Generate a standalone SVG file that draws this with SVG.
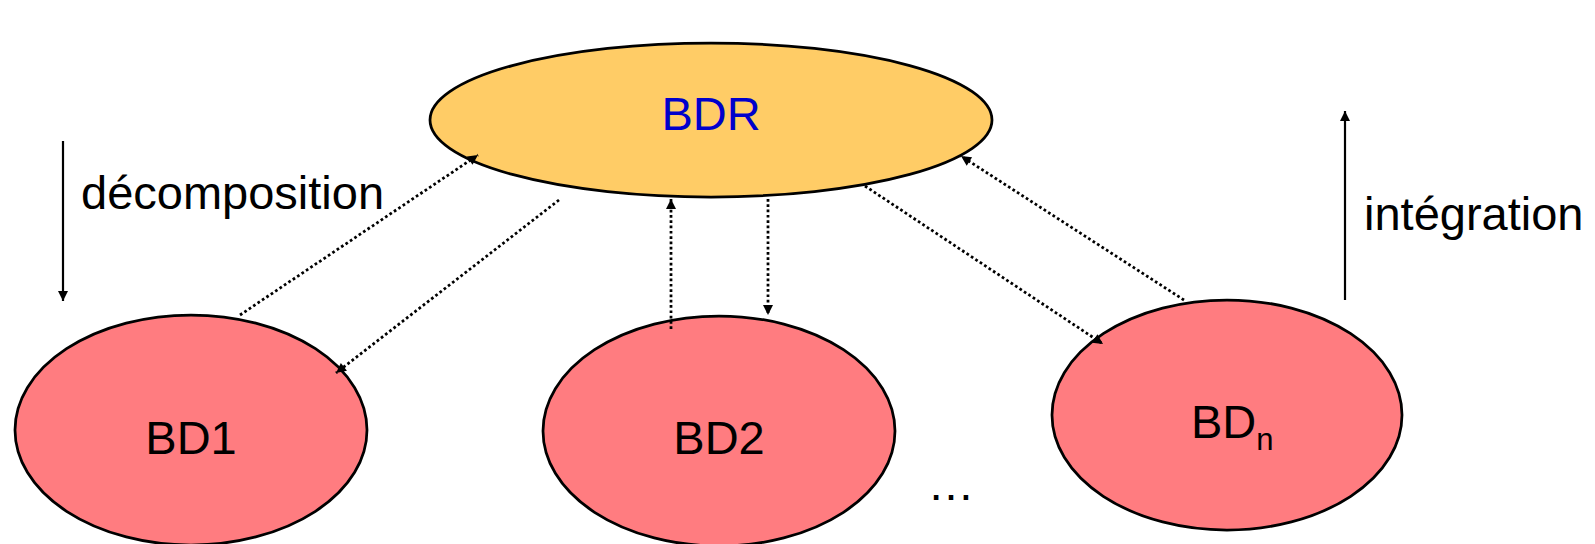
<svg xmlns="http://www.w3.org/2000/svg" width="1595" height="544" viewBox="0 0 1595 544">
  <style>
    .node-top { fill: #FFCC66; stroke: #000; stroke-width: 2.75; }
    .node { fill: #FF7C80; stroke: #000; stroke-width: 2.75; }
    .lbl { font-family: "Liberation Sans", Arial, sans-serif; font-size: 47px; fill: #000; }
    .blue { fill: #0000CC; }
    .dot { stroke: #000; stroke-width: 2.75; stroke-dasharray: 2.7 2.6; fill: none; }
    .solid { stroke: #000; stroke-width: 2.2; fill: none; }
  </style>
  <defs>
    <marker id="ah" viewBox="0 0 10 10" refX="10" refY="5" markerWidth="12" markerHeight="10" markerUnits="userSpaceOnUse" orient="auto">
      <path d="M0,0 L10,5 L0,10 z" fill="#000"/>
    </marker>
  </defs>
  <rect width="1595" height="544" fill="#fff"/>

  <g id="BDR">
    <ellipse class="node-top" cx="711" cy="120" rx="281" ry="77"/>
    <text class="lbl blue" x="711" y="130" text-anchor="middle">BDR</text>
  </g>
  <g id="BD1">
    <ellipse class="node" cx="191" cy="430" rx="176" ry="115"/>
    <text class="lbl" x="191" y="454" text-anchor="middle">BD1</text>
  </g>
  <g id="BD2">
    <ellipse class="node" cx="719" cy="431" rx="176" ry="115"/>
    <text class="lbl" x="719" y="454" text-anchor="middle">BD2</text>
  </g>
  <g id="BDn">
    <ellipse class="node" cx="1227" cy="415" rx="175" ry="115"/>
    <text class="lbl" x="1191" y="438">BD<tspan font-size="31" dy="12">n</tspan></text>
  </g>
  <g id="ellipsis">
    <text class="lbl" x="951" y="500" text-anchor="middle">…</text>
  </g>
  <g id="decomposition">
    <line class="solid" x1="63" y1="141" x2="63" y2="301" marker-end="url(#ah)"/>
    <text class="lbl" x="81" y="209">décomposition</text>
  </g>
  <g id="integration">
    <line class="solid" x1="1345" y1="300" x2="1345" y2="111" marker-end="url(#ah)"/>
    <text class="lbl" x="1364" y="230">intégration</text>
  </g>

  <g id="connectors">
    <line class="dot" x1="240" y1="315" x2="478" y2="155" marker-end="url(#ah)"/>
    <line class="dot" x1="559" y1="200" x2="336" y2="373" marker-end="url(#ah)"/>
    <line class="dot" x1="671" y1="329" x2="671" y2="199" marker-end="url(#ah)"/>
    <line class="dot" x1="768" y1="199" x2="768" y2="315" marker-end="url(#ah)"/>
    <line class="dot" x1="865" y1="186" x2="1103" y2="344" marker-end="url(#ah)"/>
    <line class="dot" x1="1184" y1="300" x2="961" y2="156" marker-end="url(#ah)"/>
  </g>
</svg>
